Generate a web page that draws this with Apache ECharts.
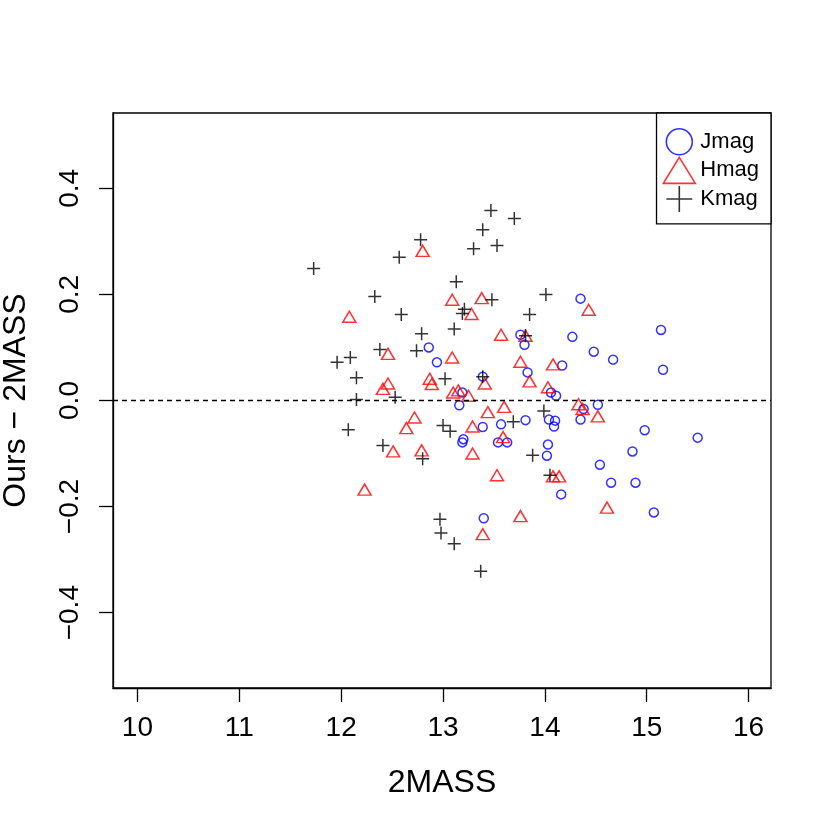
<!DOCTYPE html>
<html>
<head>
<meta charset="utf-8">
<script src="https://cdn.jsdelivr.net/npm/echarts@6/dist/echarts.min.js"></script>
<style>
  html, body { margin: 0; padding: 0; background: #fff; }
  #chart { width: 830px; height: 830px; }
</style>
</head>
<body>
<div id="chart"></div>
<script>
// [2MASS mag, Ours - 2MASS]
var jmag = [
  [12.86, 0.100], [12.94, 0.072], [13.19, 0.015], [13.16, -0.009], [14.35, 0.192],
  [13.76, 0.124], [13.80, 0.105], [14.27, 0.120], [14.48, 0.092], [14.67, 0.077],
  [14.17, 0.066], [13.83, 0.053], [13.39, 0.045], [14.06, 0.015], [14.11, 0.009],
  [15.14, 0.133], [15.16, 0.058], [14.52, -0.008], [14.38, -0.016], [14.35, -0.036],
  [14.98, -0.056], [15.50, -0.070], [14.86, -0.096], [14.54, -0.121], [14.65, -0.155],
  [14.89, -0.155], [15.07, -0.211], [13.39, -0.050], [13.57, -0.045], [13.81, -0.037],
  [14.04, -0.036], [14.10, -0.038], [14.09, -0.049], [13.20, -0.073], [13.19, -0.079],
  [13.54, -0.079], [13.63, -0.079], [14.03, -0.083], [14.02, -0.104], [14.16, -0.177],
  [13.40, -0.222]
];
var hmag = [
  [12.80, 0.282], [13.09, 0.190], [12.08, 0.158], [12.46, 0.088], [13.09, 0.081],
  [12.46, 0.032], [12.41, 0.022], [12.87, 0.041], [12.89, 0.031], [13.10, 0.015],
  [13.15, 0.019], [13.38, 0.193], [13.28, 0.163], [13.57, 0.124], [14.43, 0.171],
  [13.81, 0.122], [13.76, 0.073], [14.08, 0.068], [13.41, 0.032], [13.85, 0.036],
  [14.03, 0.025], [13.25, 0.009], [13.60, -0.012], [14.33, -0.007], [14.37, -0.016],
  [13.44, -0.022], [14.52, -0.030], [13.29, -0.049], [13.59, -0.069], [13.29, -0.100],
  [13.53, -0.141], [14.08, -0.143], [14.14, -0.143], [14.61, -0.202], [13.76, -0.218],
  [13.39, -0.252], [12.72, -0.032], [12.64, -0.052], [12.51, -0.096], [12.79, -0.094],
  [12.23, -0.168]
];
var kmag = [
  [11.73, 0.249], [12.78, 0.303], [12.57, 0.270], [12.33, 0.196], [12.59, 0.162],
  [12.79, 0.126], [12.38, 0.096], [12.09, 0.081], [11.96, 0.072], [12.15, 0.043],
  [12.15, 0.002], [12.53, 0.006], [12.74, 0.094], [13.02, 0.041], [13.13, 0.224],
  [13.19, 0.164], [13.21, 0.172], [13.11, 0.135], [13.47, 0.358], [13.70, 0.343],
  [13.39, 0.322], [13.30, 0.286], [13.53, 0.292], [13.48, 0.190], [14.01, 0.200],
  [13.85, 0.162], [13.81, 0.122], [13.39, 0.045], [12.07, -0.055], [13.00, -0.047],
  [13.07, -0.058], [12.41, -0.085], [12.80, -0.110], [12.97, -0.224], [12.98, -0.250],
  [13.11, -0.270], [13.99, -0.020], [13.69, -0.040], [13.88, -0.103], [14.05, -0.141],
  [13.37, -0.322]
];
var xTicks = [10, 11, 12, 13, 14, 15, 16];
var yTicks = [-0.4, -0.2, 0, 0.2, 0.4];
var yTickLabels = ['\u22120.4', '\u22120.2', '0.0', '0.2', '0.4'];

var font = 'Liberation Sans, Arial, Helvetica, sans-serif';
var crossPath = 'path://M0,1L2,1M1,0L1,2';

var chart = echarts.init(document.getElementById('chart'));
var option = {
  animation: false,
  backgroundColor: '#fff',
  textStyle: { fontFamily: font },
  grid: {
    left: 113, right: 59, top: 113, bottom: 142,
    outerBoundsMode: 'none', containLabel: false,
    show: true, borderColor: '#000', borderWidth: 1.3, backgroundColor: 'transparent'
  },
  legend: {
    orient: 'vertical',
    right: 59, top: 113,
    padding: [15, 12, 11, 6],
    itemWidth: 32, itemHeight: 26, itemGap: 1,
    borderColor: '#000', borderWidth: 1.3, borderRadius: 0,
    backgroundColor: '#fff',
    textStyle: { fontSize: 22, color: '#000', fontFamily: font },
    data: [
      { name: 'Jmag', icon: 'circle', itemStyle: { color: 'transparent', borderColor: '#0000ff', borderWidth: 1.6 } },
      { name: 'Hmag', icon: 'triangle', itemStyle: { color: 'transparent', borderColor: '#ff0000', borderWidth: 1.6 } },
      { name: 'Kmag', icon: crossPath, itemStyle: { color: 'transparent', borderColor: '#000', borderWidth: 1.6 } }
    ]
  },
  xAxis: {
    type: 'value', min: 9.76, max: 16.22,
    name: '2MASS', nameLocation: 'middle', nameGap: 79,
    nameTextStyle: { fontSize: 32, color: '#000', fontFamily: font },
    splitLine: { show: false },
    axisLine: { show: true, onZero: false, lineStyle: { color: '#000', width: 1.3 } },
    axisTick: { show: true, length: 14, customValues: xTicks, lineStyle: { color: '#000', width: 1.3 } },
    axisLabel: { customValues: xTicks, fontSize: 28, color: '#000', margin: 26, fontFamily: font }
  },
  yAxis: {
    type: 'value', min: -0.542, max: 0.542,
    name: 'Ours \u2212 2MASS', nameLocation: 'middle', nameGap: 81,
    nameTextStyle: { fontSize: 32, color: '#000', fontFamily: font },
    splitLine: { show: false },
    axisLine: { show: true, onZero: false, lineStyle: { color: '#000', width: 1.3 } },
    axisTick: { show: true, length: 14, customValues: yTicks, lineStyle: { color: '#000', width: 1.3 } },
    axisLabel: {
      customValues: yTicks, rotate: 90, fontSize: 28, color: '#000', margin: 29, fontFamily: font,
      formatter: function (v) {
        var i = yTicks.findIndex(function (t) { return Math.abs(t - v) < 1e-9; });
        return i >= 0 ? yTickLabels[i] : '';
      }
    }
  },
  series: [
    {
      name: 'Jmag', type: 'scatter', data: jmag,
      symbol: 'circle', symbolSize: 9,
      itemStyle: { color: 'transparent', borderColor: '#0000ff', borderWidth: 1.5 },
      emphasis: { disabled: true },
      markLine: {
        silent: true, symbol: 'none', label: { show: false },
        lineStyle: { color: '#000', type: [5, 4], width: 1.3 },
        data: [{ yAxis: 0 }]
      }
    },
    {
      name: 'Hmag', type: 'scatter', data: hmag,
      symbol: 'triangle', symbolSize: [13, 11],
      itemStyle: { color: 'transparent', borderColor: '#ff0000', borderWidth: 1.5 },
      emphasis: { disabled: true }
    },
    {
      name: 'Kmag', type: 'scatter', data: kmag,
      symbol: crossPath, symbolSize: [13, 13],
      itemStyle: { color: 'transparent', borderColor: '#000', borderWidth: 1.5 },
      emphasis: { disabled: true }
    }
  ]
};
chart.setOption(option);
</script>
</body>
</html>
